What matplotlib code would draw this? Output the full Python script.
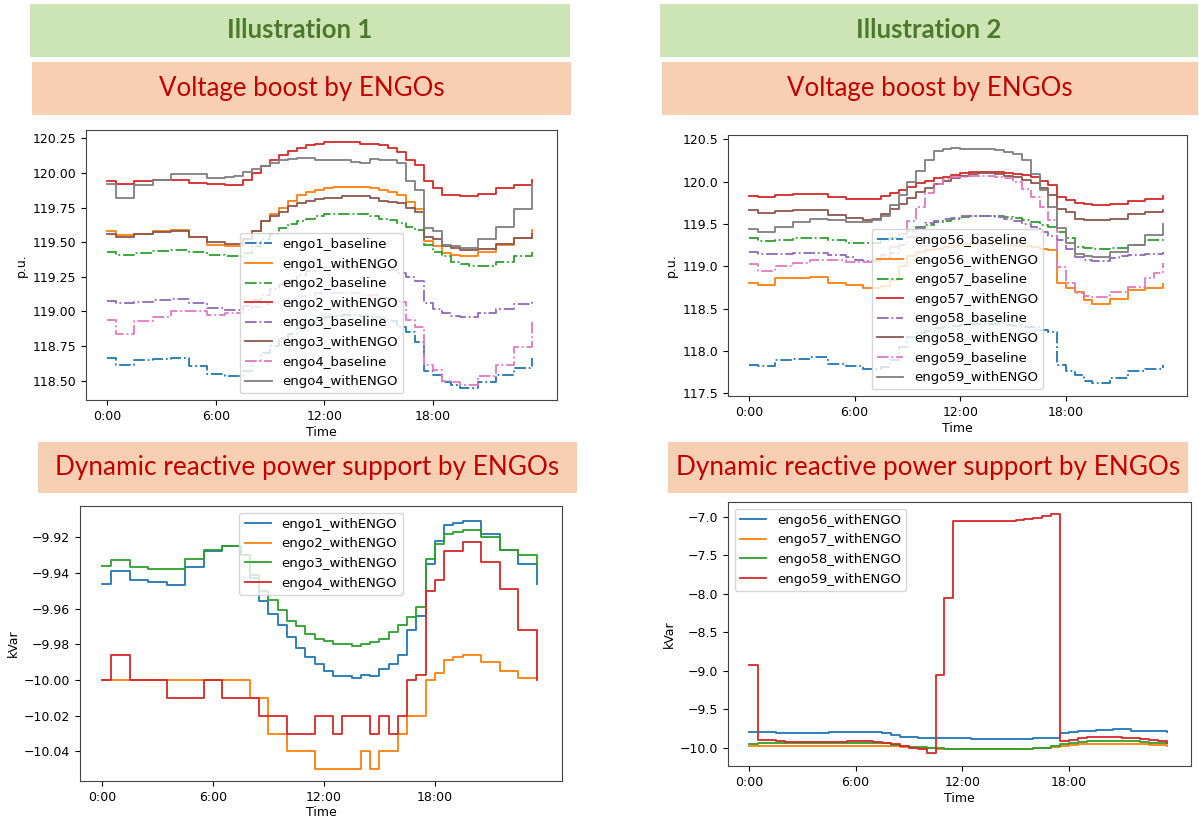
import numpy as np
import matplotlib.pyplot as plt
from matplotlib.patches import Rectangle

# half-hour steps over the day
hours = np.arange(48) * 0.5
tick_hours = [0, 6, 12, 18]
tick_labels = ['0:00', '6:00', '12:00', '18:00']

# ---- Illustration 1, voltage (p.u.)
engo1_baseline = [118.66, 118.61, 118.61, 118.65, 118.65, 118.655, 118.655, 118.66,
                  118.66, 118.605, 118.605, 118.55, 118.55, 118.535, 118.535, 118.57,
                  118.64, 118.70, 118.75, 118.80, 118.84, 118.88, 118.91, 118.94,
                  118.96, 118.97, 118.975, 118.975, 118.97, 118.96, 118.95, 118.93,
                  118.89, 118.85, 118.78, 118.57, 118.54, 118.49, 118.47, 118.445,
                  118.445, 118.49, 118.49, 118.54, 118.54, 118.59, 118.59, 118.66]
engo1_withENGO = [119.58, 119.55, 119.55, 119.56, 119.56, 119.58, 119.58, 119.59,
                  119.59, 119.54, 119.54, 119.48, 119.48, 119.47, 119.47, 119.52,
                  119.58, 119.65, 119.70, 119.75, 119.80, 119.84, 119.86, 119.88,
                  119.89, 119.90, 119.90, 119.90, 119.90, 119.89, 119.88, 119.86,
                  119.84, 119.79, 119.74, 119.51, 119.47, 119.42, 119.41, 119.40,
                  119.40, 119.43, 119.43, 119.48, 119.48, 119.53, 119.53, 119.59]
engo2_baseline = [119.43, 119.41, 119.41, 119.42, 119.42, 119.435, 119.435, 119.44,
                  119.44, 119.43, 119.43, 119.41, 119.41, 119.40, 119.40, 119.42,
                  119.47, 119.52, 119.56, 119.60, 119.63, 119.65, 119.67, 119.69,
                  119.70, 119.70, 119.70, 119.70, 119.70, 119.69, 119.67, 119.66,
                  119.64, 119.61, 119.59, 119.48, 119.43, 119.40, 119.36, 119.34,
                  119.33, 119.33, 119.33, 119.36, 119.36, 119.40, 119.40, 119.43]
engo2_withENGO = [119.94, 119.92, 119.92, 119.94, 119.94, 119.95, 119.95, 119.95,
                  119.95, 119.93, 119.93, 119.92, 119.92, 119.91, 119.91, 119.95,
                  120.00, 120.05, 120.09, 120.13, 120.16, 120.18, 120.20, 120.21,
                  120.22, 120.22, 120.22, 120.22, 120.21, 120.21, 120.20, 120.18,
                  120.15, 120.09, 120.06, 119.94, 119.89, 119.84, 119.84, 119.83,
                  119.83, 119.85, 119.85, 119.89, 119.89, 119.91, 119.91, 119.95]
engo3_baseline = [119.075, 119.06, 119.06, 119.07, 119.07, 119.085, 119.085, 119.09,
                  119.09, 119.06, 119.06, 119.025, 119.025, 119.01, 119.01, 119.04,
                  119.08, 119.12, 119.16, 119.19, 119.23, 119.26, 119.29, 119.31,
                  119.32, 119.33, 119.33, 119.33, 119.33, 119.32, 119.31, 119.30,
                  119.28, 119.25, 119.22, 119.06, 119.02, 118.985, 118.97, 118.96,
                  118.96, 118.985, 118.985, 119.02, 119.02, 119.05, 119.05, 119.075]
engo3_withENGO = [119.56, 119.54, 119.54, 119.56, 119.56, 119.57, 119.57, 119.58,
                  119.58, 119.54, 119.54, 119.50, 119.50, 119.49, 119.49, 119.52,
                  119.58, 119.65, 119.69, 119.72, 119.76, 119.78, 119.80, 119.81,
                  119.82, 119.82, 119.83, 119.83, 119.83, 119.82, 119.80, 119.79,
                  119.78, 119.75, 119.72, 119.54, 119.52, 119.47, 119.46, 119.44,
                  119.44, 119.45, 119.45, 119.49, 119.49, 119.53, 119.53, 119.56]
engo4_baseline = [118.94, 118.84, 118.84, 118.93, 118.93, 118.96, 118.96, 119.00,
                  119.00, 119.00, 119.00, 118.975, 118.975, 118.985, 118.99, 119.01,
                  119.03, 119.05, 119.07, 119.08, 119.10, 119.11, 119.12, 119.13,
                  119.13, 119.13, 119.13, 119.13, 119.12, 119.12, 119.10, 119.09,
                  119.07, 118.94, 118.89, 118.61, 118.58, 118.50, 118.49, 118.47,
                  118.47, 118.53, 118.53, 118.61, 118.61, 118.745, 118.745, 118.94]
engo4_withENGO = [119.92, 119.82, 119.82, 119.91, 119.91, 119.95, 119.95, 119.99,
                  119.99, 119.99, 119.99, 119.96, 119.96, 119.97, 119.98, 120.01,
                  120.03, 120.05, 120.07, 120.09, 120.10, 120.11, 120.11, 120.09,
                  120.09, 120.09, 120.09, 120.08, 120.07, 120.10, 120.09, 120.09,
                  120.07, 119.94, 119.88, 119.60, 119.58, 119.48, 119.47, 119.46,
                  119.46, 119.52, 119.52, 119.61, 119.61, 119.74, 119.74, 119.92]

# ---- Illustration 2, voltage (p.u.)
engo56_baseline = [117.83, 117.82, 117.82, 117.90, 117.90, 117.91, 117.91, 117.925,
                   117.925, 117.85, 117.85, 117.82, 117.82, 117.79, 117.79, 117.81,
                   117.89, 118.05, 118.17, 118.21, 118.24, 118.27, 118.29, 118.30,
                   118.31, 118.32, 118.32, 118.32, 118.32, 118.31, 118.30, 118.29,
                   118.28, 118.25, 118.22, 117.83, 117.77, 117.72, 117.65, 117.62,
                   117.62, 117.68, 117.68, 117.77, 117.77, 117.79, 117.79, 117.83]
engo56_withENGO = [118.80, 118.78, 118.78, 118.86, 118.86, 118.865, 118.865, 118.875,
                   118.875, 118.80, 118.80, 118.78, 118.78, 118.75, 118.75, 118.77,
                   118.84, 119.00, 119.12, 119.17, 119.19, 119.21, 119.23, 119.24,
                   119.25, 119.26, 119.26, 119.26, 119.26, 119.25, 119.24, 119.24,
                   119.23, 119.21, 119.19, 118.80, 118.74, 118.70, 118.60, 118.56,
                   118.56, 118.62, 118.62, 118.72, 118.72, 118.74, 118.74, 118.79]
engo57_baseline = [119.33, 119.30, 119.30, 119.31, 119.31, 119.33, 119.33, 119.33,
                   119.33, 119.31, 119.31, 119.28, 119.28, 119.27, 119.28, 119.31,
                   119.34, 119.38, 119.42, 119.46, 119.49, 119.52, 119.54, 119.56,
                   119.58, 119.59, 119.59, 119.59, 119.59, 119.58, 119.57, 119.55,
                   119.52, 119.49, 119.46, 119.40, 119.33, 119.23, 119.22, 119.21,
                   119.21, 119.22, 119.22, 119.25, 119.25, 119.31, 119.31, 119.33]
engo57_withENGO = [119.83, 119.82, 119.82, 119.84, 119.84, 119.85, 119.85, 119.85,
                   119.85, 119.82, 119.82, 119.80, 119.79, 119.79, 119.79, 119.83,
                   119.86, 119.90, 119.94, 119.98, 120.01, 120.04, 120.06, 120.08,
                   120.10, 120.11, 120.11, 120.11, 120.11, 120.10, 120.09, 120.08,
                   120.05, 120.01, 119.96, 119.82, 119.78, 119.75, 119.74, 119.72,
                   119.72, 119.74, 119.74, 119.77, 119.77, 119.79, 119.80, 119.83]
engo58_baseline = [119.17, 119.14, 119.14, 119.15, 119.15, 119.16, 119.16, 119.16,
                   119.16, 119.13, 119.13, 119.11, 119.08, 119.06, 119.06, 119.10,
                   119.16, 119.25, 119.35, 119.45, 119.51, 119.54, 119.56, 119.575,
                   119.59, 119.595, 119.595, 119.59, 119.58, 119.56, 119.53, 119.50,
                   119.46, 119.40, 119.36, 119.31, 119.21, 119.11, 119.07, 119.06,
                   119.06, 119.10, 119.12, 119.13, 119.13, 119.15, 119.15, 119.17]
engo58_withENGO = [119.66, 119.635, 119.635, 119.65, 119.65, 119.67, 119.67, 119.67,
                   119.67, 119.61, 119.61, 119.575, 119.575, 119.55, 119.56, 119.62,
                   119.68, 119.74, 119.81, 119.88, 119.93, 119.97, 120.01, 120.04,
                   120.07, 120.09, 120.10, 120.10, 120.09, 120.07, 120.05, 120.02,
                   119.98, 119.92, 119.84, 119.68, 119.64, 119.56, 119.55, 119.55,
                   119.55, 119.56, 119.56, 119.62, 119.62, 119.64, 119.64, 119.66]
engo59_baseline = [119.03, 118.95, 118.95, 119.00, 119.00, 119.04, 119.04, 119.08,
                   119.08, 119.08, 119.08, 119.05, 119.05, 119.05, 119.06, 119.13,
                   119.23, 119.38, 119.54, 119.70, 119.86, 119.97, 120.03, 120.05,
                   120.06, 120.07, 120.07, 120.07, 120.06, 120.04, 119.99, 119.91,
                   119.82, 119.70, 119.55, 118.99, 118.80, 118.68, 118.65, 118.64,
                   118.64, 118.70, 118.70, 118.76, 118.76, 118.86, 118.92, 119.04]
engo59_withENGO = [119.445, 119.41, 119.41, 119.47, 119.47, 119.525, 119.525, 119.555,
                   119.555, 119.545, 119.545, 119.525, 119.525, 119.525, 119.55, 119.60,
                   119.72, 119.84, 119.99, 120.13, 120.26, 120.36, 120.39, 120.40,
                   120.38, 120.39, 120.39, 120.38, 120.37, 120.35, 120.33, 120.26,
                   120.09, 119.90, 119.70, 119.45, 119.27, 119.15, 119.12, 119.11,
                   119.11, 119.17, 119.17, 119.25, 119.25, 119.37, 119.37, 119.50]

# ---- Illustration 1, reactive power (kVar)
q_engo1 = [-9.946, -9.939, -9.939, -9.944, -9.944, -9.945, -9.945, -9.947,
           -9.947, -9.937, -9.937, -9.928, -9.928, -9.925, -9.925, -9.930,
           -9.943, -9.956, -9.963, -9.969, -9.976, -9.982, -9.987, -9.991,
           -9.995, -9.998, -9.998, -9.999, -9.997, -9.998, -9.994, -9.991,
           -9.986, -9.972, -9.964, -9.935, -9.922, -9.913, -9.912, -9.911,
           -9.911, -9.918, -9.918, -9.927, -9.927, -9.935, -9.935, -9.946]
q_engo2 = [-10.00, -10.00, -10.00, -10.00, -10.00, -10.00, -10.00, -10.00,
           -10.00, -10.00, -10.00, -10.00, -10.00, -10.00, -10.00, -10.00,
           -10.01, -10.01, -10.03, -10.03, -10.04, -10.04, -10.04, -10.05,
           -10.05, -10.05, -10.05, -10.05, -10.04, -10.05, -10.04, -10.04,
           -10.03, -10.02, -10.02, -10.00, -9.996, -9.989, -9.987, -9.986,
           -9.986, -9.990, -9.990, -9.995, -9.995, -9.999, -9.999, -9.999]
q_engo3 = [-9.936, -9.933, -9.933, -9.937, -9.937, -9.938, -9.938, -9.938,
           -9.938, -9.932, -9.932, -9.927, -9.927, -9.925, -9.925, -9.930,
           -9.941, -9.950, -9.955, -9.961, -9.967, -9.970, -9.974, -9.977,
           -9.978, -9.980, -9.980, -9.981, -9.980, -9.979, -9.977, -9.973,
           -9.969, -9.965, -9.959, -9.932, -9.924, -9.918, -9.917, -9.916,
           -9.916, -9.920, -9.920, -9.927, -9.927, -9.930, -9.930, -9.936]
q_engo4 = [-10.00, -9.986, -9.986, -10.00, -10.00, -10.00, -10.00, -10.01,
           -10.01, -10.01, -10.01, -10.00, -10.00, -10.01, -10.01, -10.01,
           -10.01, -10.02, -10.02, -10.02, -10.03, -10.03, -10.03, -10.02,
           -10.02, -10.03, -10.02, -10.02, -10.02, -10.03, -10.02, -10.03,
           -10.02, -10.00, -9.997, -9.950, -9.944, -9.928, -9.928, -9.923,
           -9.923, -9.934, -9.934, -9.949, -9.949, -9.972, -9.972, -10.00]

# ---- Illustration 2, reactive power (kVar)
q_engo56 = [-9.80, -9.80, -9.80, -9.81, -9.81, -9.81, -9.81, -9.81,
            -9.81, -9.80, -9.80, -9.80, -9.80, -9.80, -9.80, -9.81,
            -9.84, -9.86, -9.865, -9.87, -9.875, -9.88, -9.88, -9.88,
            -9.88, -9.885, -9.89, -9.89, -9.89, -9.89, -9.89, -9.885,
            -9.88, -9.875, -9.87, -9.81, -9.80, -9.78, -9.78, -9.77,
            -9.77, -9.76, -9.76, -9.78, -9.78, -9.79, -9.79, -9.80]
q_engo57 = [-9.98, -9.98, -9.98, -9.98, -9.98, -9.98, -9.98, -9.98,
            -9.98, -9.98, -9.98, -9.98, -9.98, -9.98, -9.98, -9.98,
            -9.985, -9.99, -10.00, -10.00, -10.01, -10.015, -10.02, -10.02,
            -10.02, -10.02, -10.02, -10.02, -10.02, -10.02, -10.02, -10.02,
            -10.01, -10.00, -9.99, -9.975, -9.965, -9.955, -9.95, -9.95,
            -9.95, -9.95, -9.95, -9.95, -9.96, -9.965, -9.97, -9.98]
q_engo58 = [-9.95, -9.945, -9.94, -9.94, -9.935, -9.935, -9.935, -9.935,
            -9.935, -9.935, -9.935, -9.935, -9.935, -9.935, -9.935, -9.945,
            -9.965, -9.98, -9.99, -9.995, -10.00, -10.01, -10.02, -10.02,
            -10.02, -10.02, -10.02, -10.02, -10.02, -10.02, -10.02, -10.015,
            -10.01, -10.00, -9.98, -9.96, -9.935, -9.925, -9.92, -9.92,
            -9.92, -9.92, -9.92, -9.92, -9.93, -9.935, -9.94, -9.94]
q_engo59 = [-8.92, -9.90, -9.90, -9.92, -9.93, -9.93, -9.93, -9.93,
            -9.93, -9.93, -9.925, -9.92, -9.92, -9.92, -9.93, -9.945,
            -9.96, -9.98, -10.00, -10.02, -10.07, -9.06, -8.05, -7.05,
            -7.05, -7.05, -7.05, -7.05, -7.05, -7.05, -7.04, -7.03,
            -7.01, -6.99, -6.96, -9.91, -9.90, -9.87, -9.86, -9.86,
            -9.86, -9.86, -9.87, -9.88, -9.89, -9.90, -9.92, -9.94]

W, H = 1199, 818
fig = plt.figure(figsize=(W / 100, H / 100), dpi=100)


def box(x0, y0, x1, y1):
    # pixel box (top-left origin) -> figure fraction rect
    return [x0 / W, 1 - y1 / H, (x1 - x0) / W, (y1 - y0) / H]


def banner(x0, y0, x1, y1, text, face, color, bold=False, size=18):
    fig.add_artist(Rectangle((x0 / W, 1 - y1 / H), (x1 - x0) / W, (y1 - y0) / H,
                             transform=fig.transFigure, facecolor=face,
                             edgecolor='none'))
    fig.text((x0 + x1) / 2 / W, 1 - (y0 + y1) / 2 / H, text, ha='center',
             va='center', fontsize=size, color=color,
             fontweight='bold' if bold else 'normal', family=['Lato', 'DejaVu Sans'])


GREEN, PINK = '#cde5b5', '#f9cfb4'
banner(30, 4, 570, 57, 'Illustration 1', GREEN, '#4b7a2c', bold=True, size=18.5)
banner(660, 4, 1198, 57, 'Illustration 2', GREEN, '#4b7a2c', bold=True, size=18.5)
banner(32, 62, 571, 115, 'Voltage boost by ENGOs', PINK, '#c00000', size=18.6)
banner(662, 62, 1198, 115, 'Voltage boost by ENGOs', PINK, '#c00000', size=18.6)
banner(38, 442, 577, 493, 'Dynamic reactive power support by ENGOs', PINK, '#c00000', size=18.8)
banner(668, 442, 1188, 493, 'Dynamic reactive power support by ENGOs', PINK, '#c00000', size=18.8)

ax_tl = fig.add_axes(box(86, 130, 557, 400))
ax_tr = fig.add_axes(box(728, 135, 1187, 396))
ax_bl = fig.add_axes(box(80, 506, 562, 781))
ax_br = fig.add_axes(box(728, 502, 1191, 766))

lw = 1.3
tl_series = [('engo1', engo1_baseline, engo1_withENGO), ('engo2', engo2_baseline, engo2_withENGO),
             ('engo3', engo3_baseline, engo3_withENGO), ('engo4', engo4_baseline, engo4_withENGO)]
for name, base, withe in tl_series:
    ax_tl.plot(hours, base, '-.', drawstyle='steps-post', lw=lw, label=name + '_baseline')
    ax_tl.plot(hours, withe, drawstyle='steps-post', lw=lw, label=name + '_withENGO')

tr_series = [('engo56', engo56_baseline, engo56_withENGO), ('engo57', engo57_baseline, engo57_withENGO),
             ('engo58', engo58_baseline, engo58_withENGO), ('engo59', engo59_baseline, engo59_withENGO)]
for name, base, withe in tr_series:
    ax_tr.plot(hours, base, '-.', drawstyle='steps-post', lw=lw, label=name + '_baseline')
    ax_tr.plot(hours, withe, drawstyle='steps-post', lw=lw, label=name + '_withENGO')

for name, q in [('engo1', q_engo1), ('engo2', q_engo2), ('engo3', q_engo3), ('engo4', q_engo4)]:
    ax_bl.plot(hours, q, drawstyle='steps-post', lw=lw, label=name + '_withENGO')

for name, q in [('engo56', q_engo56), ('engo57', q_engo57), ('engo58', q_engo58), ('engo59', q_engo59)]:
    ax_br.plot(hours, q, drawstyle='steps-post', lw=lw, label=name + '_withENGO')

ax_tl.set_ylim(118.36, 120.31)
ax_tr.set_ylim(117.47, 120.55)
ax_bl.set_ylim(-10.0566, -9.9026)
ax_br.set_ylim(-10.24, -6.805)
ax_tl.set_yticks(np.arange(118.5, 120.26, 0.25))
ax_tr.set_yticks(np.arange(117.5, 120.51, 0.5))
ax_bl.set_yticks(np.arange(-10.04, -9.915, 0.02))
ax_br.set_yticks(np.arange(-10.0, -6.99, 0.5))

for ax, ylab, loc in [(ax_tl, 'p.u.', 'lower center'), (ax_tr, 'p.u.', 'lower center'),
                      (ax_bl, 'kVar', 'upper center'), (ax_br, 'kVar', 'upper left')]:
    ax.set_xlim(-1.18, 24.87)
    ax.set_xticks(tick_hours)
    ax.set_xticklabels(tick_labels)
    ax.set_xlabel('Time', fontsize=9, labelpad=2)
    ax.set_ylabel(ylab, fontsize=9, labelpad=3)
    ax.tick_params(labelsize=9)
    for s in ax.spines.values():
        s.set_color('#444444')
    ax.legend(loc=loc, fontsize=9.5)

fig.savefig('out.png', dpi=100)
